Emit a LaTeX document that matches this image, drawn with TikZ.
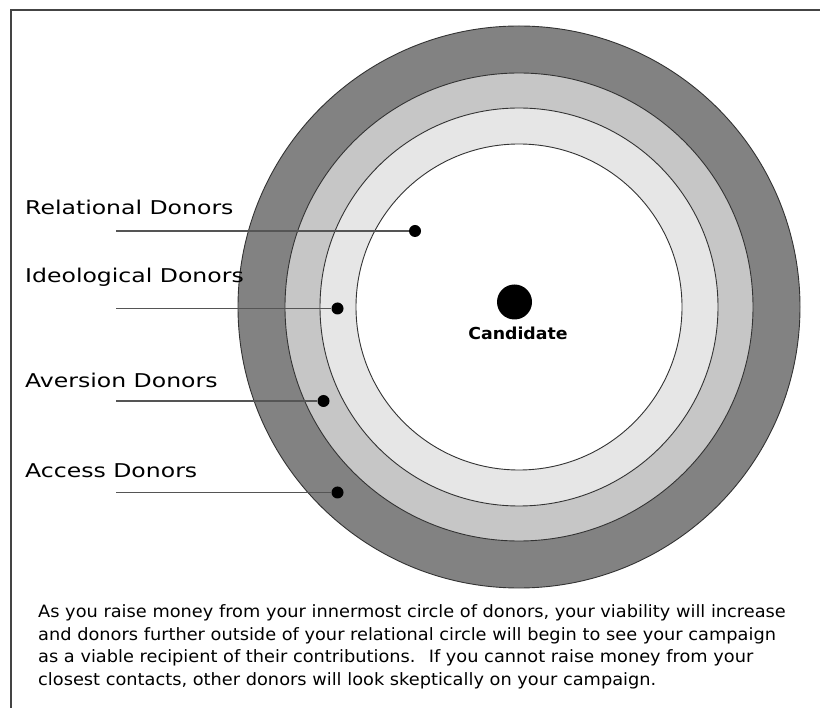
\documentclass[tikz,border=0pt]{standalone}
\usepackage{fontspec}
\newfontfamily\labelfont[FakeStretch=1.24]{DejaVu Sans}
\newfontfamily\candfont[FakeStretch=1.05]{DejaVu Sans}
\newfontfamily\bodyfont[FakeStretch=1.045]{DejaVu Sans}
\definecolor{ringout}{HTML}{828282}
\definecolor{ringmid}{HTML}{C6C6C6}
\definecolor{ringin}{HTML}{E6E6E6}
\definecolor{framegray}{HTML}{444444}
\definecolor{leadgray}{HTML}{555555}
\tikzstyle{ring}=[draw=black!80, line width=0.9pt]
\tikzstyle{donor}=[circle, fill=black, inner sep=0pt, minimum size=12pt]
\tikzstyle{label}=[anchor=base west, inner sep=0pt, font={\labelfont\fontsize{19}{23}\selectfont}]
\tikzstyle{lead}=[draw=leadgray, line width=1.4pt]
\def\lineleft{116}

\begin{document}
\begin{tikzpicture}[x=1pt,y=-1pt]
	\useasboundingbox (0,0) rectangle (820,708);
	% frame (top and left edges only)
	\draw[framegray, line width=1.4pt] (820,10) -- (11,10) -- (11,708);
	% the rings
	\fill[ringout] (519,307) circle [radius=281pt];
	\draw[ring] (519,307) circle [radius=281pt];
	\filldraw[ring, fill=ringmid] (519,307) circle [radius=234pt];
	\filldraw[ring, fill=ringin] (519,307) circle [radius=199pt];
	\filldraw[ring, fill=white] (519,307) circle [radius=163pt];

	% Define the nodes in the picture
	\node (cand_dot) [circle, fill=black, inner sep=0pt, minimum size=35pt] at (514.5,302) {};
	\node (cand_txt) [anchor=base, inner sep=0pt, font={\candfont\bfseries\fontsize{16.5}{20}\selectfont}] at (518,340) {Candidate};
	\node (rel_txt) [label] at (25,215) {Relational Donors};
	\node (ideo_txt) [label] at (25,283) {Ideological Donors};
	\node (ave_txt) [label] at (25,388) {Aversion Donors};
	\node (acc_txt) [label] at (25,478) {Access Donors};
	\node (rel_dot) [donor] at (415,231) {};
	\node (ideo_dot) [donor] at (337.5,308.5) {};
	\node (ave_dot) [donor] at (323.5,401) {};
	\node (acc_dot) [donor] at (337.5,492.5) {};
	\coordinate (rel_in) at (\lineleft,231);
	\coordinate (ideo_in) at (\lineleft,308.5);
	\coordinate (ave_in) at (\lineleft,401);
	\coordinate (acc_in) at (\lineleft,492.5);
	\node (note) [anchor=base west, inner sep=0pt, align=left,
		font={\bodyfont\fontsize{17}{22.4}\selectfont}] at (38,685)
		{As you raise money from your innermost circle of donors, your viability will increase\\
		and donors further outside of your relational circle will begin to see your campaign\\
		as a viable recipient of their contributions.~ If you cannot raise money from your\\
		closest contacts, other donors will look skeptically on your campaign.};

	% Define the edges in the picture
	\draw [lead] (rel_in) -- (rel_dot);
	\draw [lead] (ideo_in) -- (ideo_dot);
	\draw [lead] (ave_in) -- (ave_dot);
	\draw [lead] (acc_in) -- (acc_dot);
\end{tikzpicture}
\end{document}
